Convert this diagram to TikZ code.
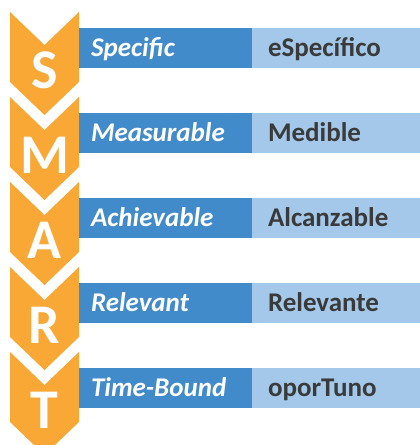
\documentclass[tikz,border=0pt]{standalone}
\usepackage{fontspec}
\setmainfont{Carlito}
\usetikzlibrary{positioning}
\definecolor{smartorange}{HTML}{F9A836}
\definecolor{smartblue}{HTML}{428BCA}
\definecolor{smartlight}{HTML}{A3C8E9}
\definecolor{smartgrey}{HTML}{3A3A3A}
\tikzset{
chev/.style={fill=smartorange},
letter/.style={text=white,inner sep=0pt,text height=35pt,text depth=0pt,font=\fontsize{56}{56}\selectfont\bfseries},
bar/.style={outer sep=0pt,inner ysep=0pt,minimum height=40pt,text height=17pt,text depth=0pt,align=left},
engbox/.style={bar,fill=smartblue,text=white,anchor=west,inner xsep=12pt,text width=149pt,font=\fontsize{27}{27}\selectfont\bfseries\itshape},
espbox/.style={bar,fill=smartlight,text=smartgrey,inner xsep=16pt,text width=136pt,font=\fontsize{27}{27}\selectfont\bfseries}
}
\begin{document}
\begin{tikzpicture}[x=1pt,y=-1pt]
\useasboundingbox (0,0) rectangle (420,445);
\clip (0,0) rectangle (420,445);
\foreach \k/\ltr/\en/\es in {0/S/Specific/eSpecífico,1/M/Measurable/Medible,2/A/Achievable/Alcanzable,3/R/Relevant/Relevante,4/T/Time-Bound/oporTuno}{
\pgfmathsetmacro\t{12+85*\k}
\fill[chev] (10,\t) -- (44.5,\t+33) -- (79,\t) -- (79,\t+70) -- (44.5,\t+103) -- (10,\t+70) -- cycle;
\node[letter] (ltr\k) at (44.5,\t+59) {\ltr};
\node[engbox] (eng\k) at (79,\t+36) {\en};
\node[espbox,right=0pt of eng\k] (esp\k) {\es};
}
\end{tikzpicture}
\end{document}
